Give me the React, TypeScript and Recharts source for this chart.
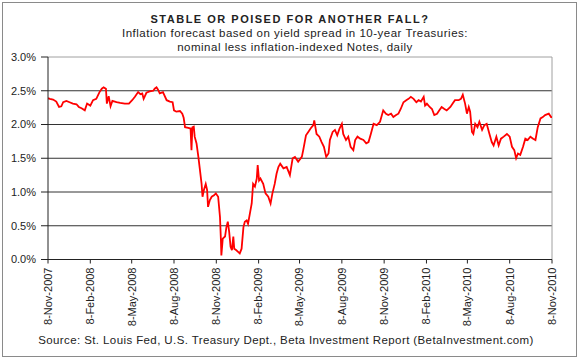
import React from "react";
import { LineChart, Line, XAxis, YAxis, ReferenceLine } from "recharts";

// days since 8-Nov-2007
const dayOffsets = [
  0, 4, 11, 18, 24, 29, 33, 40, 47, 54, 62, 67, 73, 80, 85, 92, 98, 105, 112, 117,
  121, 126, 128, 132, 136, 140, 149, 157, 167, 176, 183, 189, 196, 201, 205, 208, 214, 221, 229, 232,
  236, 239, 243, 250, 258, 265, 271, 274, 279, 287, 292, 295, 298, 305, 310, 312, 314, 317, 319, 323,
  327, 330, 334, 336, 339, 343, 346, 348, 352, 356, 361, 365, 370, 374, 376, 377, 380, 385, 388, 391,
  394, 397, 400, 403, 405, 409, 414, 417, 421, 425, 428, 432, 435, 439, 443, 446, 450, 454, 456, 459,
  462, 468, 473, 479, 484, 488, 493, 497, 501, 505, 512, 519, 526, 532, 537, 544, 552, 555, 561, 566,
  571, 577, 579, 584, 590, 595, 600, 605, 610, 613, 619, 624, 629, 634, 639, 642, 648, 653, 658, 664,
  668, 673, 679, 686, 692, 697, 702, 708, 715, 722, 729, 735, 740, 746, 751, 757, 762, 767, 773, 779,
  784, 789, 795, 801, 806, 811, 817, 820, 824, 830, 835, 840, 846, 851, 856, 862, 867, 875, 880, 885,
  893, 898, 902, 907, 911, 915, 918, 922, 925, 929, 934, 938, 944, 949, 954, 960, 965, 969, 975, 980,
  985, 991, 998, 1004, 1009, 1014, 1018, 1022, 1027, 1033, 1038, 1043, 1049, 1055, 1060, 1065, 1071, 1076, 1081, 1089,
  1094, 1096,
];

// spread, percent
const spread = [
  2.39, 2.38, 2.37, 2.34, 2.26, 2.27, 2.33, 2.35, 2.33, 2.31, 2.3, 2.26, 2.24, 2.21, 2.31, 2.28, 2.36, 2.38, 2.48, 2.53,
  2.55, 2.53, 2.31, 2.42, 2.27, 2.35, 2.33, 2.32, 2.31, 2.31, 2.36, 2.41, 2.48, 2.45, 2.46, 2.38, 2.47, 2.49, 2.5, 2.53,
  2.55, 2.52, 2.46, 2.48, 2.36, 2.34, 2.33, 2.21, 2.19, 2.2, 2.16, 2.1, 1.96, 1.95, 1.94, 1.62, 1.96, 1.97, 1.82, 1.72,
  1.52, 1.35, 1.12, 0.93, 1.03, 1.12, 1.03, 0.78, 0.88, 0.93, 0.95, 0.98, 0.93, 0.63, 0.29, 0.06, 0.31, 0.34, 0.48, 0.56,
  0.41, 0.19, 0.14, 0.34, 0.16, 0.14, 0.11, 0.09, 0.16, 0.48, 0.56, 0.58, 0.53, 0.68, 0.83, 1.12, 1.08, 1.2, 1.4, 1.17,
  1.2, 1.12, 0.98, 0.93, 0.83, 0.98, 1.12, 1.27, 1.37, 1.42, 1.35, 1.37, 1.25, 1.5, 1.52, 1.45, 1.52, 1.62, 1.84, 1.89,
  1.94, 1.99, 2.06, 1.86, 1.82, 1.74, 1.67, 1.52, 1.57, 1.77, 1.89, 1.92, 1.84, 1.94, 2.01, 1.86, 1.77, 1.82, 1.67, 1.62,
  1.77, 1.82, 1.79, 1.77, 1.72, 1.74, 1.86, 2.01, 1.99, 2.04, 2.21, 2.16, 2.14, 2.16, 2.11, 2.14, 2.16, 2.23, 2.33, 2.36,
  2.38, 2.41, 2.38, 2.33, 2.36, 2.34, 2.41, 2.28, 2.31, 2.26, 2.23, 2.14, 2.16, 2.21, 2.26, 2.23, 2.21, 2.26, 2.31, 2.36,
  2.36, 2.38, 2.44, 2.31, 2.16, 2.26, 2.19, 1.89, 1.86, 2.01, 1.96, 2.04, 1.92, 1.99, 2.01, 1.86, 1.74, 1.69, 1.82, 1.69,
  1.79, 1.82, 1.86, 1.82, 1.67, 1.62, 1.5, 1.57, 1.55, 1.67, 1.79, 1.77, 1.82, 1.79, 1.77, 1.96, 2.09, 2.11, 2.14, 2.16,
  2.11, 2.11,
];

const xTickLabels = [
  "8-Nov-2007", "8-Feb-2008", "8-May-2008", "8-Aug-2008", "8-Nov-2008", "8-Feb-2009", "8-May-2009",
  "8-Aug-2009", "8-Nov-2009", "8-Feb-2010", "8-May-2010", "8-Aug-2010", "8-Nov-2010",
];
const yTicks = [0, 0.5, 1, 1.5, 2, 2.5, 3];

const MONTHS = ["Jan", "Feb", "Mar", "Apr", "May", "Jun", "Jul", "Aug", "Sep", "Oct", "Nov", "Dec"];
const toDay = (label: string) => {
  const [d, m, y] = label.split("-");
  const t = Date.UTC(+y, MONTHS.indexOf(m), +d);
  return Math.round((t - Date.UTC(2007, 10, 8)) / 86400000);
};
const xTicks = xTickLabels.map(toDay);
const labelByDay: Record<number, string> = {};
xTicks.forEach((d, i) => (labelByDay[d] = xTickLabels[i]));

const data = dayOffsets.map((day, i) => ({ day, v: spread[i] }));

const FONT = '"Liberation Sans", Arial, sans-serif';

function DateTick({ x, y, payload }: any) {
  return (
    <text
      x={x}
      y={y + 2}
      transform={`rotate(-90, ${x}, ${y + 2})`}
      textAnchor="end"
      dy="0.35em"
      fontSize={11}
      fill="#222"
      fontFamily={FONT}
    >
      {labelByDay[payload.value]}
    </text>
  );
}

export default function App() {
  return (
    <div style={{ position: "relative", width: 580, height: 360, background: "#fff", fontFamily: FONT }}>
      <style>{"body{margin:0}"}</style>
      <div
        style={{
          position: "absolute",
          left: 2,
          top: 2,
          width: 573,
          height: 353,
          border: "1px solid #8a8a8a",
        }}
      />
      <div style={{ position: "absolute", top: 13, left: 0, width: 580, textAlign: "center", color: "#222" }}>
        <div style={{ fontSize: 11, fontWeight: "bold", letterSpacing: 1.5 }}>
          STABLE OR POISED FOR ANOTHER FALL?
        </div>
        <div style={{ fontSize: 11.5, letterSpacing: 0.5, marginTop: 1, lineHeight: "14px", paddingLeft: 10 }}>
          Inflation forecast based on yield spread in 10-year Treasuries:
          <br />
          nominal less inflation-indexed Notes, daily
        </div>
      </div>
      <LineChart
        width={580}
        height={360}
        data={data}
        margin={{ top: 57, right: 28, left: 0, bottom: 0 }}
        style={{ position: "absolute", left: 0, top: 0 }}
      >
        <XAxis
          dataKey="day"
          type="number"
          domain={[0, 1096]}
          ticks={xTicks}
          interval={0}
          height={100.5}
          tickSize={4}
          tick={<DateTick />}
          axisLine={{ stroke: "#222" }}
          tickLine={{ stroke: "#222" }}
          allowDataOverflow
        />
        <YAxis
          type="number"
          domain={[0, 3]}
          ticks={yTicks}
          width={48}
          tickSize={7}
          tickMargin={5}
          tickFormatter={(v: number) => v.toFixed(1) + "%"}
          tick={{ fontSize: 11, fill: "#222", fontFamily: FONT }}
          axisLine={{ stroke: "#222" }}
          tickLine={{ stroke: "#222" }}
        />
        {yTicks.slice(1, 6).map((v) => (
          <ReferenceLine key={v} y={v} stroke="#333" strokeWidth={1} />
        ))}
        <ReferenceLine y={3} stroke="#a0a0a0" />
        <ReferenceLine x={1096} stroke="#a0a0a0" />
        <Line
          type="linear"
          dataKey="v"
          stroke="#ff0000"
          strokeWidth={1.8}
          dot={false}
          isAnimationActive={false}
        />
      </LineChart>
      <div
        style={{
          position: "absolute",
          top: 334,
          left: 0,
          width: 580,
          textAlign: "center",
          fontSize: 11.5,
          letterSpacing: 0.4,
          color: "#222",
          paddingRight: 8,
          boxSizing: "border-box",
        }}
      >
        Source: St. Louis Fed, U.S. Treasury Dept., Beta Investment Report (BetaInvestment.com)
      </div>
    </div>
  );
}
